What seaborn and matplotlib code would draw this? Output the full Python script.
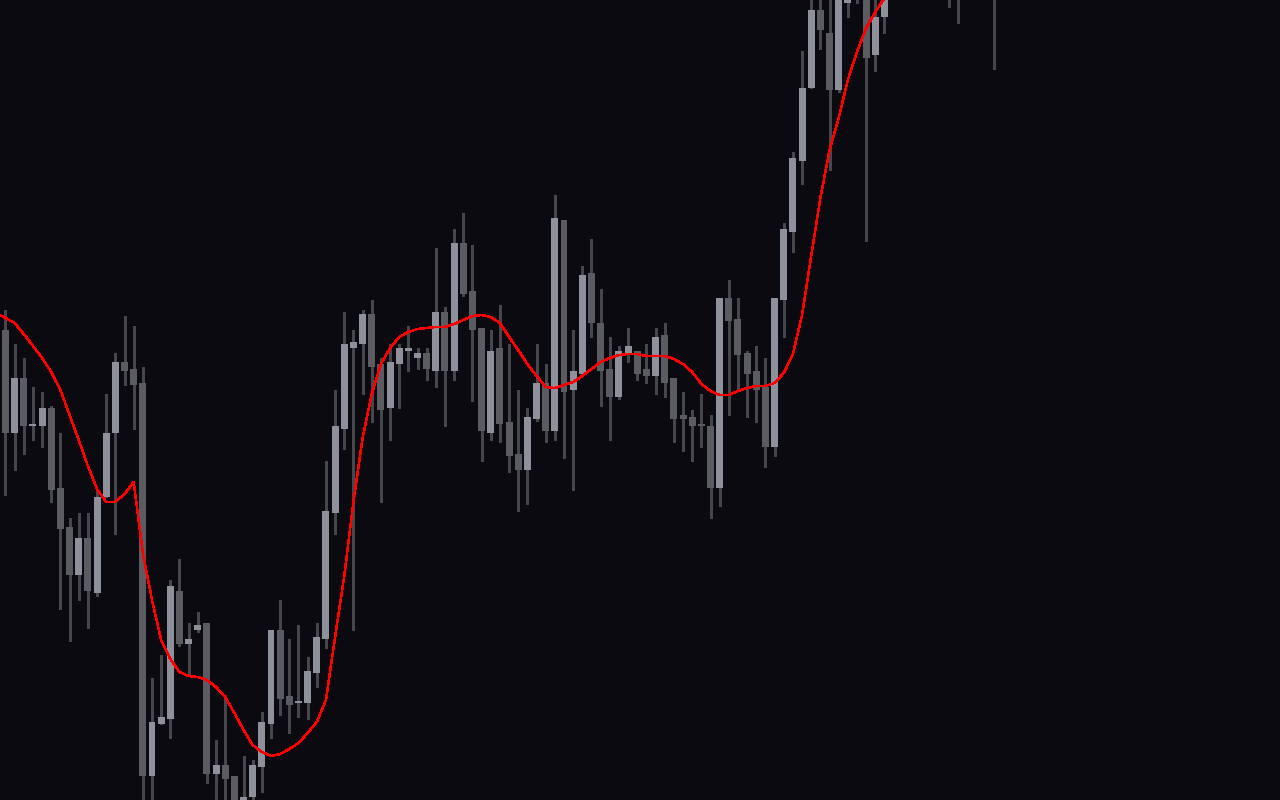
import numpy as np
import pandas as pd
import matplotlib
matplotlib.use("Agg")
import matplotlib.pyplot as plt
import seaborn as sns

# OHLC per bar (price units)
opens = [670, 567, 622, 574, 574, 592, 512, 473, 425, 462,
         407, 503, 567, 638, 631, 617, 224, 276, 281, 409,
         356, 370, 377, 226, 235, 224, 185, 203, 233, 276,
         370, 304, 297, 297, 327, 361, 487, 571, 652, 656,
         686, 636, 592, 636, 649, 642, 647, 629, 688, 629,
         757, 709, 672, 567, 652, 578, 546, 530, 581, 617,
         569, 780, 610, 626, 727, 677, 631, 603, 647, 649,
         631, 624, 665, 622, 585, 583, 576, 574, 512, 702,
         681, 647, 629, 613, 553, 700, 768, 839, 912, 990,
         967, 910, 997, 1060, 1045, 945, 983, 1030, 1060, 1045,
         1070, 1055, 1035, 1040, 1015, 1045, 1030, 1050, 1035]
closes = [567, 622, 574, 576, 592, 510, 471, 425, 462, 409,
          503, 567, 638, 629, 615, 224, 278, 283, 414, 356,
          361, 375, 226, 235, 221, 180, 203, 235, 278, 370,
          301, 295, 299, 329, 363, 489, 574, 656, 658, 686,
          633, 590, 638, 652, 652, 647, 631, 688, 629, 757,
          706, 670, 569, 649, 576, 544, 530, 583, 617, 569,
          782, 608, 629, 725, 677, 629, 603, 649, 654, 626,
          624, 663, 617, 581, 581, 574, 574, 512, 702, 679,
          645, 626, 610, 553, 702, 771, 842, 912, 990, 970,
          910, 1004, 1040, 1030, 942, 983, 1030, 1060, 1045, 1070,
          1055, 1035, 1050, 1020, 1045, 1030, 1050, 1035, 1025]
highs = [690, 656, 642, 613, 608, 594, 567, 482, 487, 487,
         510, 606, 647, 684, 674, 633, 322, 345, 420, 441,
         377, 388, 377, 260, 305, 224, 244, 240, 288, 370,
         400, 361, 375, 343, 377, 539, 610, 688, 670, 690,
         700, 642, 656, 656, 674, 652, 652, 752, 693, 771,
         787, 755, 672, 670, 695, 656, 610, 592, 656, 636,
         805, 780, 670, 734, 761, 711, 663, 654, 672, 649,
         656, 672, 677, 622, 608, 590, 606, 585, 702, 720,
         702, 649, 654, 642, 702, 777, 848, 949, 1008, 1005,
         1003, 1020, 1055, 1075, 1060, 1010, 1045, 1080, 1090, 1095,
         1100, 1085, 1070, 1055, 1060, 1065, 1070, 1075, 1060]
lows = [505, 530, 546, 560, 553, 498, 391, 359, 400, 372,
        404, 503, 466, 615, 571, 188, 192, 276, 262, 354,
        325, 368, 217, 190, 185, 170, 175, 190, 208, 262,
        285, 267, 283, 281, 313, 352, 466, 551, 370, 606,
        578, 498, 560, 592, 629, 631, 620, 613, 574, 620,
        704, 599, 539, 560, 558, 528, 489, 496, 579, 558,
        560, 542, 510, 626, 663, 594, 560, 601, 638, 620,
        617, 606, 603, 558, 549, 539, 553, 482, 494, 585,
        610, 583, 578, 533, 544, 663, 748, 816, 912, 951,
        830, 908, 983, 997, 759, 929, 967, 1012, 1020, 1030,
        1035, 1020, 1015, 993, 977, 1010, 1015, 1020, 931]

# red smoothed average, first value sits one bar left of the first candle
ma_line = [687, 682, 677, 666, 654, 642, 628, 610, 585, 560,
           534, 511, 498, 498, 506, 518, 447, 400, 360, 341,
           328, 324, 323, 320, 313, 303, 287, 270, 255, 248,
           244, 246, 251, 257, 267, 278, 300, 363, 424, 498,
           562, 606, 636, 652, 663, 668, 671, 672, 673, 673,
           676, 680, 684, 685, 683, 677, 663, 650, 636, 624,
           613, 612, 615, 618, 624, 631, 638, 642, 645, 646,
           646, 644, 644, 644, 641, 636, 628, 616, 609, 605,
           605, 609, 612, 614, 614, 617, 627, 646, 685, 744,
           802, 850, 882, 920, 948, 972, 988, 1002, 1015, 1028]

bg = "#0a0a10"
up_color = "#8e909c"
down_color = "#5b5c62"
wick_color = "#46474d"

sns.set_theme(style="dark", rc={"axes.facecolor": bg, "figure.facecolor": bg})

candles = pd.DataFrame({"open": opens, "high": highs, "low": lows, "close": closes})
candles["bar"] = np.arange(len(candles))
candles["bottom"] = candles[["open", "close"]].min(axis=1)
candles["body"] = (candles["close"] - candles["open"]).abs()
candles["color"] = np.where(candles["close"] >= candles["open"], up_color, down_color)

ma = pd.DataFrame({"bar": np.arange(-1, len(ma_line) - 1), "ma": ma_line})

fig = plt.figure(figsize=(12.8, 8), dpi=100)
ax = fig.add_axes([0, 0, 1, 1])

ax.vlines(candles["bar"], candles["low"], candles["high"],
          color=wick_color, linewidth=2.1, antialiased=False, zorder=1)
ax.bar(candles["bar"], candles["body"], bottom=candles["bottom"],
       width=0.76, color=candles["color"], linewidth=0,
       antialiased=False, zorder=2)
sns.lineplot(data=ma, x="bar", y="ma", color="#ff0000", linewidth=1.1,
             estimator=None, antialiased=False, ax=ax, zorder=3)

ax.set_xlim(-0.6, 139.2)
ax.set_ylim(200, 1000)
ax.set_axis_off()

fig.savefig("out.png", dpi=100, facecolor=bg)
